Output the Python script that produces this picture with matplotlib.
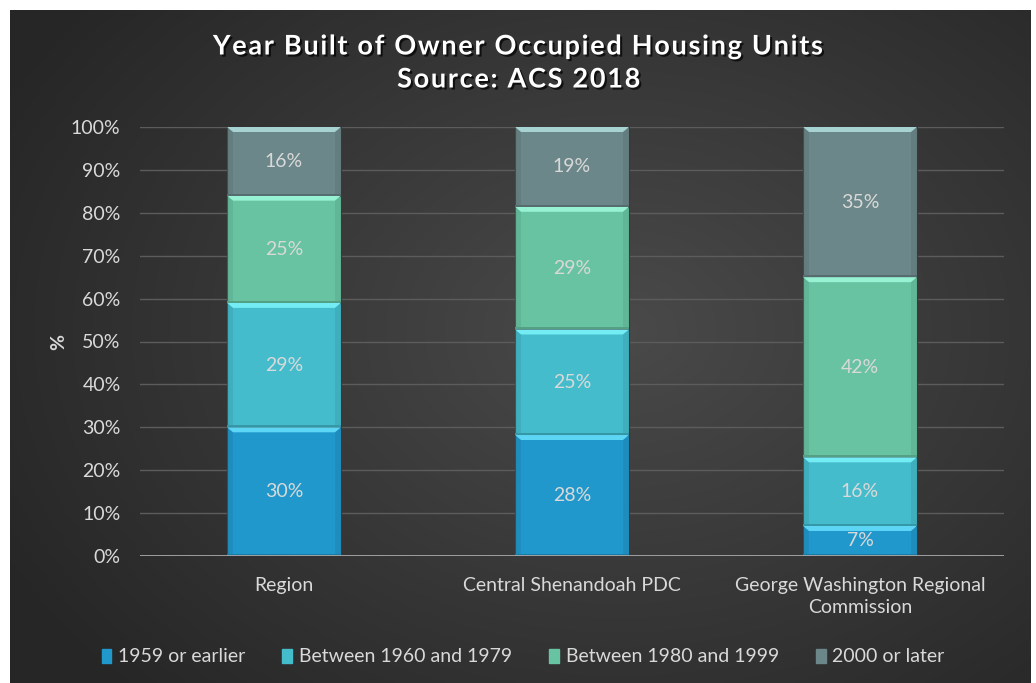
import numpy as np
import matplotlib
matplotlib.use("Agg")
import matplotlib.pyplot as plt
import matplotlib.patheffects as pe
from matplotlib.patches import Polygon, Rectangle

plt.rcParams['font.family'] = ['Lato', 'DejaVu Sans']

# data
places = ['Region', 'Central Shenandoah PDC', 'George Washington Regional\nCommission']
periods = ['1959 or earlier', 'Between 1960 and 1979', 'Between 1980 and 1999', '2000 or later']
shares = {
    '1959 or earlier': [30, 28.2, 7],
    'Between 1960 and 1979': [29, 24.6, 16],
    'Between 1980 and 1999': [25, 28.6, 42],
    '2000 or later': [16, 18.6, 35],
}
yticks = [0, 10, 20, 30, 40, 50, 60, 70, 80, 90, 100]
title = 'Year Built of Owner Occupied Housing Units\nSource: ACS 2018'

base_colors = ['#2198cc', '#45bccc', '#68c3a2', '#6c8789']
bevel_colors = ['#5cd6f4', '#74ecf4', '#96f2d2', '#a6d2d2']
dark_colors = ['#1a7aa6', '#3598a6', '#53a084', '#566c6e']

W, H = 1036, 683
fig = plt.figure(figsize=(W / 100, H / 100), dpi=100)
fig.patch.set_facecolor('white')

# dark radial background
bg = fig.add_axes([0, 0, 1, 1])
bg.set_xlim(0, W)
bg.set_ylim(H, 0)
bg.axis('off')
xx, yy = np.meshgrid(np.linspace(10, 1031, 400), np.linspace(10, H, 300))
r = np.sqrt(((xx - 620) / 650) ** 2 + ((yy - 330) / 480) ** 2)
shade = np.clip(0.29 - 0.13 * r, 0.15, 0.29)
bg.imshow(np.dstack([shade, shade, shade]), extent=[10, 1031, H, 10],
          aspect='auto', interpolation='bilinear')

left, right, bottom_px, top_px = 140, 1004, 556, 127
ax = fig.add_axes([left / W, 1 - bottom_px / H, (right - left) / W, (bottom_px - top_px) / H])
ax.set_facecolor('none')
ax.set_xlim(-0.5, 2.5)
ax.set_ylim(0, 100)

# pixel sizes in data units
px_x = 3 / (right - left)
px_y = 100 / (bottom_px - top_px)

x = np.arange(len(places))
width = 0.396
bottoms = np.zeros(len(places))
for i, p in enumerate(periods):
    vals = np.array(shares[p])
    ax.bar(x, vals, width, bottom=bottoms, color=base_colors[i],
           edgecolor='#3a3a3a', linewidth=0.8, zorder=3, label=p)
    for xi, v, b in zip(x, vals, bottoms):
        x0, x1 = xi - width / 2, xi + width / 2
        top = b + v
        bh = 5 * px_y
        bw = 6 * px_x
        # bevel: light top edge, darker sides and bottom
        ax.add_patch(Polygon([(x0, top), (x1, top), (x1 - bw, top - bh), (x0 + bw, top - bh)],
                             closed=True, color=bevel_colors[i], lw=0, zorder=4))
        ax.add_patch(Polygon([(x0, top), (x0 + bw, top - bh), (x0 + bw, b + 2 * px_y), (x0, b)],
                             closed=True, color=dark_colors[i], alpha=0.35, lw=0, zorder=4))
        ax.add_patch(Polygon([(x1, top), (x1 - bw, top - bh), (x1 - bw, b + 2 * px_y), (x1, b)],
                             closed=True, color=dark_colors[i], alpha=0.35, lw=0, zorder=4))
        ax.add_patch(Rectangle((x0, b), width, 2 * px_y, color=dark_colors[i], lw=0, zorder=4))
        ax.text(xi, b + v / 2, f'{v:.0f}%', ha='center', va='center', color='#d9d9d9',
                fontsize=14, zorder=5)
    bottoms += vals

ax.set_yticks(yticks)
ax.set_yticklabels([f'{t}%' for t in yticks])
ax.set_xticks(x)
ax.set_xticklabels(places, linespacing=1.35)
ax.tick_params(axis='both', length=0, colors='#d9d9d9', labelsize=14)
ax.tick_params(axis='y', pad=14)
ax.tick_params(axis='x', pad=15)
ax.grid(axis='y', color='#5c5c5c', linewidth=1, zorder=0)
ax.axhline(0, color='#a8a8a8', linewidth=2, zorder=6)
for s in ax.spines.values():
    s.set_visible(False)
ax.set_ylabel('%', color='#d9d9d9', fontsize=14, fontweight='bold', labelpad=3)

# title with widened letter spacing
spaced = '\n'.join('\u200a'.join(line) for line in title.split('\n'))
fig.text(0.501, 1 - 63 / H, spaced,
         ha='center', va='center', color='white', fontsize=19.5, fontweight='bold',
         linespacing=1.45,
         path_effects=[pe.withSimplePatchShadow(offset=(1.5, -1.5), shadow_rgbFace='black', alpha=0.7)])

handles = [Rectangle((0, 0), 1, 1, color=c) for c in base_colors]
fig.legend(handles, periods, loc='center', bbox_to_anchor=(0.505, 1 - 657 / H), ncol=4,
           frameon=False, fontsize=14, labelcolor='#d9d9d9', handlelength=0.5,
           handleheight=0.7, handletextpad=0.35, columnspacing=1.9)

fig.savefig('out.png', dpi=100)
